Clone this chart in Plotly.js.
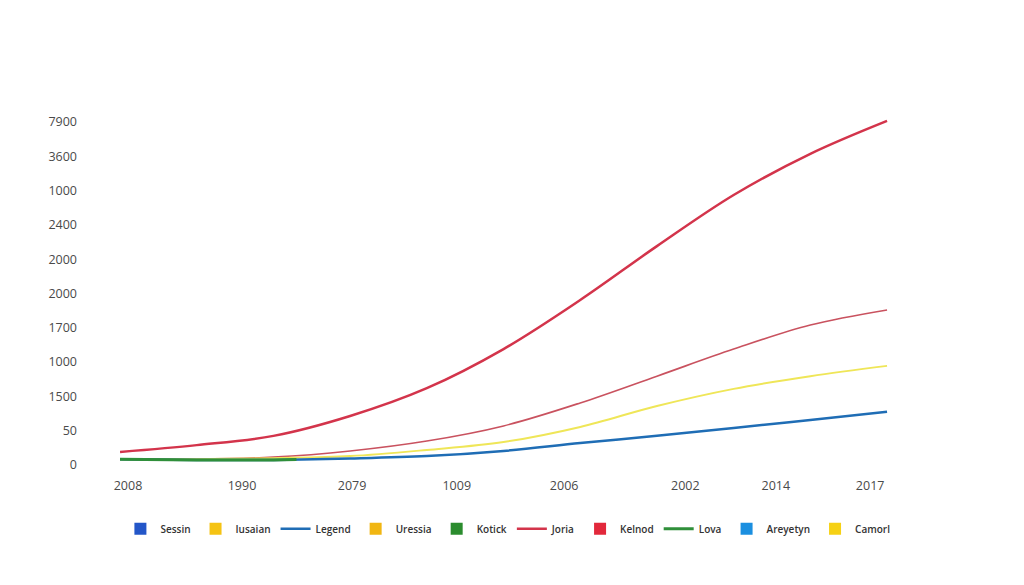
<!DOCTYPE html>
<html>
<head>
<meta charset="utf-8">
<script src="https://cdn.plot.ly/plotly-3.0.1.min.js"></script>
<style>
  html, body { margin: 0; padding: 0; background: #ffffff; }
  #chart { width: 1024px; height: 585px; }
</style>
</head>
<body>
<div id="chart"></div>
<script>
// x positions (0..100 position scale along the time axis)
const xPos = [0, 10, 20, 30, 40, 50, 60, 70, 80, 90, 100];
const greenX = [0, 10, 20, 23];

// series values (in tick-index units of the y axis)
const joriaVals  = [0.38, 0.58, 0.85, 1.43, 2.24, 3.38, 4.81, 6.38, 7.87, 9.07, 10.03];
const roseVals   = [0.17, 0.17, 0.23, 0.41, 0.70, 1.14, 1.81, 2.59, 3.38, 4.08, 4.52];
const yellowVals = [0.17, 0.17, 0.20, 0.26, 0.44, 0.67, 1.11, 1.72, 2.22, 2.59, 2.89];
const legendVals = [0.17, 0.15, 0.15, 0.19, 0.26, 0.41, 0.64, 0.85, 1.08, 1.31, 1.55];
const lovaVals   = [0.17, 0.15, 0.15, 0.16];

// tick labels
const yTickVals = [0, 1, 2, 3, 4, 5, 6, 7, 8, 9, 10];
const yTickText = ['0', '50', '1500', '1000', '1700', '2000', '2000', '2400', '1000', '3600', '7900'];
const xTickVals = [1.04, 15.9, 30.25, 43.9, 57.9, 73.7, 85.5, 97.8];
const xTickText = ['2008', '1990', '2079', '1009', '2006', '2002', '2014', '2017'];

// legend-only box entries (no values in the chart)
const boxNames  = ['Sessin', 'Iusaian', 'Uressia', 'Kotick', 'Kelnod', 'Areyetyn', 'Camorl'];
const boxColors = ['#2356c8', '#f5c313', '#f1b612', '#2b8c2e', '#e2283b', '#1b8fe0', '#f6d114'];
const boxRanks  = [1, 2, 4, 5, 7, 9, 10];
const noValue   = [null];

const traces = [];

traces.push({
  type: 'scatter', mode: 'lines', x: xPos, y: roseVals, name: 'rose',
  showlegend: false, hoverinfo: 'skip',
  line: { color: '#c9525f', width: 1.6, shape: 'spline', smoothing: 1 }
});
traces.push({
  type: 'scatter', mode: 'lines', x: xPos, y: yellowVals, name: 'yellow',
  showlegend: false, hoverinfo: 'skip',
  line: { color: '#efe658', width: 2, shape: 'spline', smoothing: 1 }
});
traces.push({
  type: 'scatter', mode: 'lines', x: xPos, y: legendVals, name: 'Legend',
  legendrank: 3,
  line: { color: '#1f6db5', width: 2.5, shape: 'spline', smoothing: 1 }
});
traces.push({
  type: 'scatter', mode: 'lines', x: greenX, y: lovaVals, name: 'Lova',
  legendrank: 8,
  line: { color: '#2f8f3a', width: 3, shape: 'spline', smoothing: 1 }
});
traces.push({
  type: 'scatter', mode: 'lines', x: xPos, y: joriaVals, name: 'Joria',
  legendrank: 6,
  line: { color: '#d3344b', width: 2.5, shape: 'spline', smoothing: 1 }
});

boxNames.forEach((n, i) => {
  traces.push({
    type: 'bar', x: noValue, y: noValue, name: n, legendrank: boxRanks[i],
    marker: { color: boxColors[i], line: { width: 0 } }
  });
});

const layout = {
  width: 1024, height: 585,
  paper_bgcolor: '#ffffff', plot_bgcolor: '#ffffff',
  margin: { l: 78, r: 124, t: 100, b: 109 },
  showlegend: true,
  xaxis: {
    type: 'linear',
    range: [-5.48, 101.69],
    tickmode: 'array', tickvals: xTickVals, ticktext: xTickText,
    showgrid: false, zeroline: false, showline: false, ticks: '',
    tickfont: { family: 'Open Sans, sans-serif', size: 12.5, color: '#4a4a4a' }
  },
  yaxis: {
    type: 'linear',
    range: [-0.32, 10.64],
    tickmode: 'array', tickvals: yTickVals, ticktext: yTickText,
    showgrid: false, zeroline: false, showline: false, ticks: '',
    tickfont: { family: 'Open Sans, sans-serif', size: 12.5, color: '#4a4a4a' }
  },
  legend: {
    orientation: 'h', x: 0.523, xanchor: 'center', y: -0.14, yanchor: 'middle',
    font: { family: 'Open Sans, sans-serif', size: 10, color: '#333333', weight: 600 },
    itemwidth: 30, bgcolor: 'rgba(0,0,0,0)'
  }
};

Plotly.newPlot('chart', traces, layout, { displayModeBar: false, staticPlot: true });
</script>
</body>
</html>
